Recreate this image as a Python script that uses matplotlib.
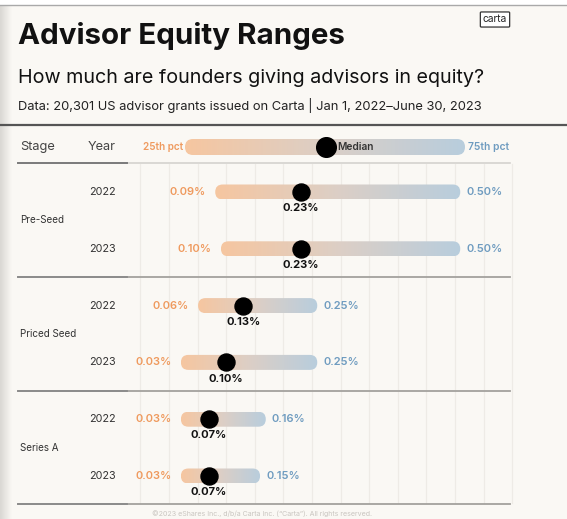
import numpy as np
import matplotlib.pyplot as plt
from matplotlib.patches import FancyBboxPatch, Rectangle
from matplotlib.colors import LinearSegmentedColormap

# data (percent of company granted to advisors)
stages = ['Pre-Seed', 'Priced Seed', 'Series A']
years = ['2022', '2023', '2022', '2023', '2022', '2023']
p25 = [0.09, 0.10, 0.06, 0.03, 0.03, 0.03]
median = [0.23, 0.23, 0.13, 0.10, 0.07, 0.07]
p75 = [0.50, 0.50, 0.25, 0.25, 0.16, 0.15]

plt.rcParams['font.family'] = ['Inter', 'DejaVu Sans']

BG = '#faf8f4'
ORANGE = '#ef9a5e'
BLUE = '#6f9cc0'
W, H = 567, 519

# pixel layout -> data units (x: percent, y: row index)
X0, XS = 169, 572
ROW0, ROWS = 192, 56.8
def vx(px):
    return (px - X0) / XS
def ry(py):
    return (py - ROW0) / ROWS

cmap = LinearSegmentedColormap.from_list('bar', ['#f6c6a0', '#dccfc6', '#b8cddd'])
grad = np.linspace(0, 1, 256).reshape(1, -1)

fig = plt.figure(figsize=(W / 100, H / 100), dpi=100, facecolor=BG)
ax = fig.add_axes([0, 0, 1, 1])
ax.set_facecolor(BG)
ax.axis('off')

half = 7.5 / ROWS
cap = 7.5 / XS
asp = half / cap

def grad_bar(x0, x1, y, hh, z=2):
    im = ax.imshow(grad, extent=(x0, x1, y + hh, y - hh), cmap=cmap,
                   aspect='auto', zorder=z, interpolation='bilinear')
    r = hh / asp
    box = FancyBboxPatch((x0, y - hh), x1 - x0, 2 * hh,
                         boxstyle=f'round,pad=0,rounding_size={r}',
                         mutation_aspect=asp, facecolor='none',
                         edgecolor='none', transform=ax.transData)
    ax.add_patch(box)
    im.set_clip_path(box)

# left shadow + white strip on top
shade = np.linspace(0, 1, 64).reshape(1, -1)
ax.imshow(shade, extent=(vx(0), vx(11), ry(H), ry(5)), aspect='auto',
          cmap=LinearSegmentedColormap.from_list('sh', ['#d9d7d3', BG]), zorder=0)
ax.add_patch(Rectangle((vx(0), ry(0)), vx(W) - vx(0), ry(5) - ry(0),
                       facecolor='white', edgecolor='none', zorder=1))
ax.plot([vx(0), vx(W)], [ry(5), ry(5)], color='#a9a9a9', lw=1, zorder=3)

# vertical grid
for g in np.arange(-0.05, 0.601, 0.05):
    ax.plot([g, g], [ry(164), ry(503)], color='#eeebe6', lw=0.9, zorder=1)

# horizontal rules
ax.plot([vx(0), vx(W)], [ry(125), ry(125)], color='#555555', lw=1.6, zorder=3)
ax.plot([vx(127), vx(510)], [ry(163), ry(163)], color='#d4d2ce', lw=1.2, zorder=3)
ax.plot([vx(18), vx(127)], [ry(163), ry(163)], color='#7a7a7a', lw=1.4, zorder=3)
rows = np.arange(len(years))
for sep in [1.5, 3.5, 5.5]:
    ax.plot([vx(18), vx(510)], [sep, sep], color='#a3a19d', lw=1.3, zorder=3)
    ax.plot([vx(18), vx(127)], [sep, sep], color='#8a8a8a', lw=1.3, zorder=3)

# header row
hy = ry(147)
ax.text(vx(20), hy, 'Stage', fontsize=9.2, color='#444444', va='center', ha='left')
ax.text(vx(116), hy, 'Year', fontsize=9.2, color='#444444', va='center', ha='right')
grad_bar(vx(185), vx(465), hy, 8 / ROWS)
ax.scatter([vx(326)], [hy], s=200, color='black', zorder=4)
ax.text(vx(337), hy, 'Median', fontsize=7.3, fontweight='semibold', color='#333333',
        va='center', ha='left', zorder=5)
ax.text(vx(183), hy, '25th pct', fontsize=7.2, fontweight='semibold', color=ORANGE,
        va='center', ha='right')
ax.text(vx(468), hy, '75th pct', fontsize=7.4, fontweight='semibold', color=BLUE,
        va='center', ha='left')

# bars
for i, y in enumerate(rows):
    lo, md, hi = p25[i], median[i], p75[i]
    grad_bar(lo - cap * 0.7, hi + cap * 0.7, y, half)
    ax.scatter([md], [y], s=150, color='black', zorder=4)
    ax.text(md, y + 0.285, f'{md:.2f}%', fontsize=8, fontweight='bold',
            color='#111111', ha='center', va='center', zorder=5)
    ax.text(lo - cap * 0.7 - 9 / XS, y, f'{lo:.2f}%', fontsize=8,
            fontweight='semibold', color=ORANGE, ha='right', va='center')
    ax.text(hi + cap * 0.7 + 6 / XS, y, f'{hi:.2f}%', fontsize=8,
            fontweight='semibold', color=BLUE, ha='left', va='center')
    ax.text(vx(116), y, years[i], fontsize=7.8, color='#333333',
            ha='right', va='center')

for k, st in enumerate(stages):
    ax.text(vx(20), 2 * k + 0.5, st, fontsize=7.1, color='#333333',
            ha='left', va='center')

ax.set_xlim(vx(0), vx(W))
ax.set_ylim(ry(H), ry(0))

# titles
fig.text(18 / W, 1 - 44 / H, 'Advisor Equity Ranges', fontsize=21.3,
         fontweight='bold', color='#111111', va='baseline')
fig.text(18 / W, 1 - 83 / H, 'How much are founders giving advisors in equity?',
         fontsize=14.2, color='#111111', va='baseline')
fig.text(18 / W, 1 - 110 / H,
         'Data: 20,301 US advisor grants issued on Carta | Jan 1, 2022\u2013June 30, 2023',
         fontsize=9.3, color='#222222', va='baseline')
fig.text(495 / W, 1 - 19.5 / H, 'carta', fontsize=7.3, color='#222222',
         ha='center', va='center',
         bbox=dict(boxstyle='round,pad=0.25,rounding_size=0.1', fc='white',
                   ec='#333333', lw=0.9))
fig.text(262 / W, 1 - 514 / H,
         '\u00a92023 eShares Inc., d/b/a Carta Inc. (\u201cCarta\u201d). All rights reserved.',
         fontsize=5.1, color='#c9c5c0', ha='center', va='center')

fig.savefig('out.png', dpi=100, facecolor=BG)
